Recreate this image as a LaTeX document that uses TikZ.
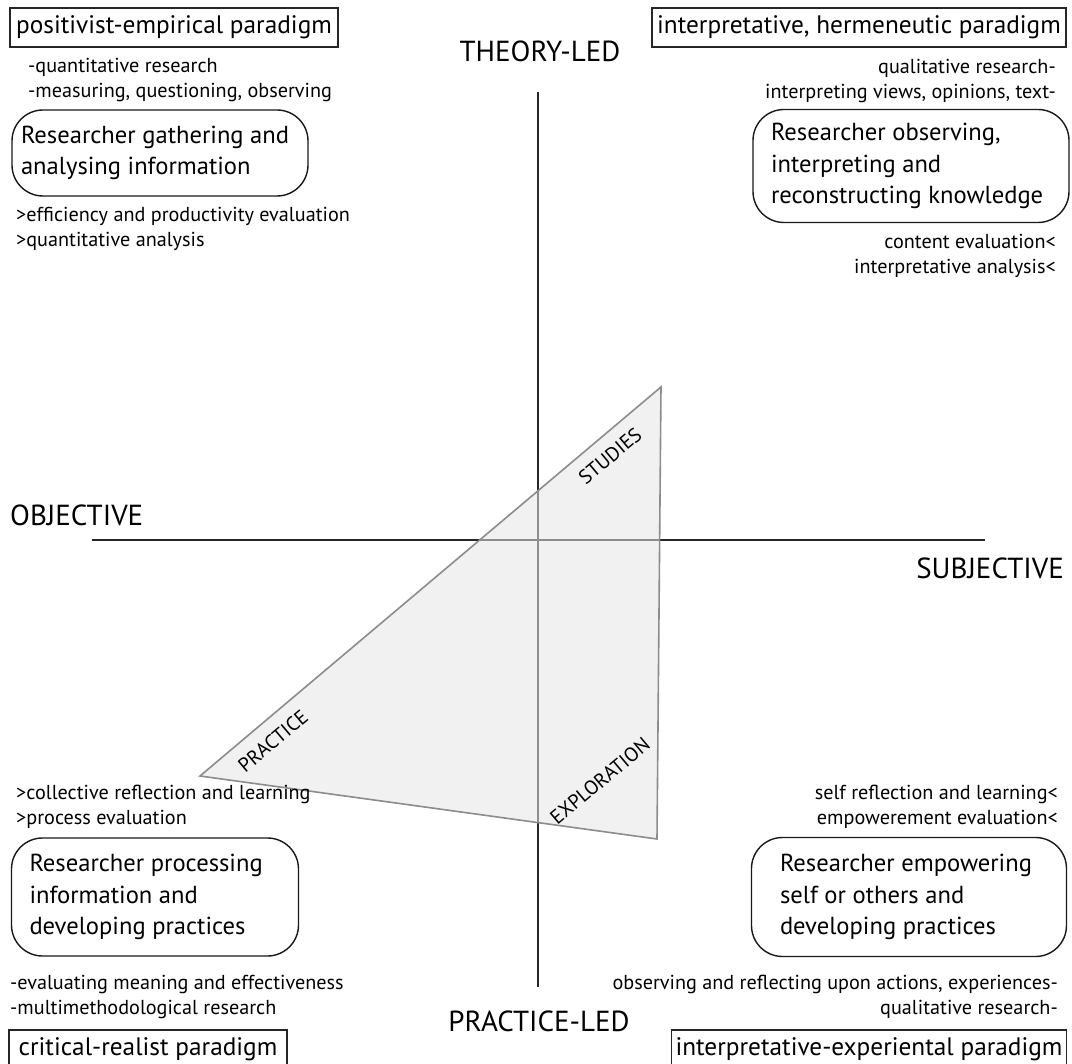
\documentclass[tikz,border=0pt]{standalone}
\usepackage{fontspec}
\setmainfont{PT Sans}
\begin{document}
\begin{tikzpicture}[x=1pt,y=-1pt,
  paradigm/.style={draw=black!85, line width=1.6pt, inner sep=0pt,
    font=\fontsize{25.3}{28}\selectfont, align=center},
  rbox/.style={draw=black!90, line width=1.4pt, rounded corners=31pt, inner sep=0pt,
    align=flush left, font=\fontsize{24.6}{31.5}\selectfont},
  notel/.style={inner sep=0pt, align=left, font=\fontsize{20.2}{25}\selectfont, anchor=west},
  noter/.style={inner sep=0pt, align=right, font=\fontsize{20.2}{25}\selectfont, anchor=east},
  axislabel/.style={inner sep=0pt, font=\fontsize{29}{32}\selectfont},
  axis/.style={draw=black!85, line width=2pt},
  sidelabel/.style={inner sep=0pt, font=\fontsize{20}{22}\selectfont, rotate=40}]
\useasboundingbox (0,0) rectangle (1072,1064);

% axes
\coordinate (vt) at (538,92);
\coordinate (vb) at (538,987);
\coordinate (hl) at (92,540);
\coordinate (hr) at (985,540);
\draw[axis] (vt) -- (vb);
\draw[axis] (hl) -- (hr);

% triangle laid over the axes
\coordinate (ta) at (661,387);
\coordinate (tb) at (200,776);
\coordinate (tc) at (657,839);
\draw[draw=black!45, line width=1.6pt, fill=black!10, fill opacity=0.55, line join=miter]
  (ta) -- (tb) -- (tc) -- cycle;
\node[sidelabel] (studies) at (610,456) {STUDIES};
\node[sidelabel] (practice) at (273,741) {PRACTICE};
\node[sidelabel] (explor) at (600,781) {EXPLORATION};

% axis labels
\node[axislabel] (theory) at (540,51) {THEORY-LED};
\node[axislabel] (practled) at (539,1021) {PRACTICE-LED};
\node[axislabel, anchor=west] (objective) at (10,515) {OBJECTIVE};
\node[axislabel, anchor=east] (subjective) at (1064,568) {SUBJECTIVE};

% top left quadrant
\node[paradigm, minimum width=328pt, minimum height=39pt] (pos) at (174,27.5) {positivist-empirical paradigm};
\node[notel] (posn) at (28,80) {-quantitative research\\-measuring, questioning, observing};
\node[rbox, minimum width=296pt, minimum height=86pt, text width=278pt] (gath) at (160,153)
  {Researcher gathering and\\analysing information};
\node[notel] (gathn) at (16,229) {>efficiency and productivity evaluation\\>quantitative analysis};

% top right quadrant
\node[paradigm, minimum width=414pt, minimum height=39pt] (herm) at (859,27.5) {interpretative, hermeneutic paradigm};
\node[noter] (hermn) at (1056,81) {qualitative research-\\interpreting views, opinions, text-};
\node[rbox, minimum width=316pt, minimum height=113pt, text width=280pt] (obs) at (911,166)
  {Researcher observing,\\interpreting and\\reconstructing knowledge};
\node[noter] (obsn) at (1056,256) {content evaluation<\\interpretative analysis<};

% bottom left quadrant
\node[notel] (procn) at (16,807) {>collective reflection and learning\\>process evaluation};
\node[rbox, minimum width=287pt, minimum height=118pt, text width=251pt] (proc) at (155,897)
  {Researcher processing\\information and\\developing practices};
\node[notel] (critn) at (10,997) {-evaluating meaning and effectiveness\\-multimethodological research};
\node[paradigm, minimum width=278pt, minimum height=38pt] (crit) at (148,1049) {critical-realist paradigm};

% bottom right quadrant
\node[noter] (empn) at (1058,807) {self reflection and learning<\\empowerement evaluation<};
\node[rbox, minimum width=315pt, minimum height=119pt, text width=258pt] (emp) at (909,897)
  {Researcher empowering\\self or others and\\developing practices};
\node[noter] (expn) at (1058,997) {observing and reflecting upon actions, experiences-\\qualitative research-};
\node[paradigm, minimum width=395pt, minimum height=38pt] (expp) at (869,1049) {interpretative-experiental paradigm};
\end{tikzpicture}
\end{document}
